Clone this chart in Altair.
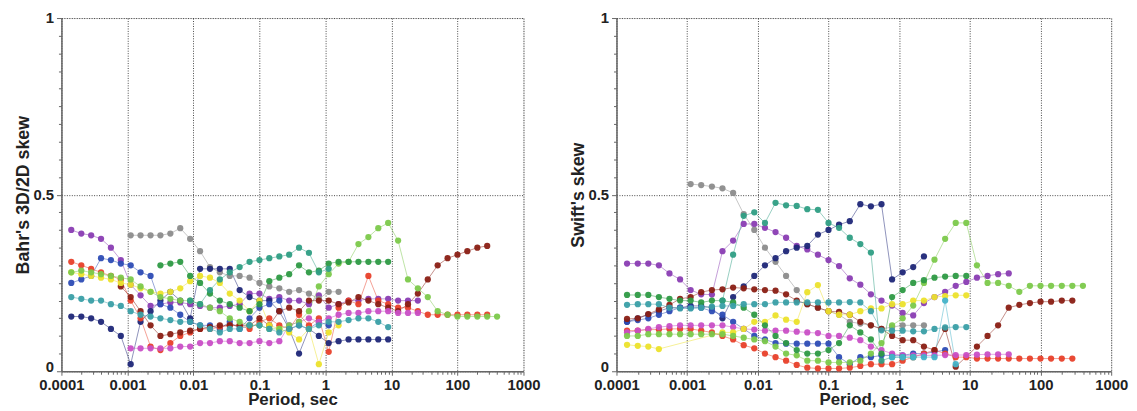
import altair as alt
import pandas as pd

# Periods (s) shared by all stations
periods = [0.000141, 0.0002, 0.000282, 0.000398, 0.000562, 0.000794, 0.00112, 0.00158,
           0.00224, 0.00316, 0.00447, 0.00631, 0.00891, 0.0126, 0.0178, 0.0251, 0.0355,
           0.0501, 0.0708, 0.1, 0.141, 0.2, 0.282, 0.398, 0.562, 0.794, 1.12, 1.58, 2.24,
           3.16, 4.47, 6.31, 8.91, 12.6, 17.8, 25.1, 35.5, 50.1, 70.8, 100, 141, 200, 282, 398]
N = None

# ---- Bahr's 3D/2D skew ----
bahr_purple = [0.40, 0.39, 0.385, 0.375, 0.35, 0.315, 0.245, 0.215, 0.185, 0.19, 0.195, 0.195, 0.19, 0.185,
               0.18, 0.18, 0.185, 0.19, 0.22, 0.22, 0.205, 0.21, 0.2, 0.2, 0.19, 0.215, 0.18, 0.19, 0.2, 0.2,
               0.205, 0.205, 0.205, 0.2, 0.2, 0.2] + [N] * 8
bahr_gray = [N] * 6 + [0.385, 0.385, 0.385, 0.385, 0.39, 0.405, 0.375, 0.34, 0.295, 0.28, 0.27, 0.27, 0.265,
                       0.25, 0.24, 0.235, 0.225, 0.23, 0.22, 0.205, 0.225, 0.225] + [N] * 16
bahr_red = [0.31, 0.30, 0.29, 0.28, 0.27, 0.26, 0.2, 0.15, 0.07, 0.06, 0.08, 0.1, 0.11, 0.12, 0.12, 0.125,
            0.13, 0.13, 0.12, 0.14, 0.15, 0.13, 0.12, 0.16, 0.13, 0.15, 0.055, 0.18, 0.2, 0.19, 0.27, 0.2,
            0.19, 0.18, 0.18, 0.17, 0.16, 0.16, 0.16, 0.16, 0.16, 0.16, 0.16, N]
bahr_lightgreen = [0.28, 0.285, 0.28, 0.275, 0.27, 0.265, 0.26, 0.24, 0.225, 0.21, 0.205, 0.2, 0.2, 0.19,
                   0.18, 0.17, 0.15, 0.14, 0.13, 0.13, 0.12, 0.12, 0.13, 0.14, 0.17, 0.24, 0.275, 0.305,
                   0.31, 0.36, 0.38, 0.405, 0.42, 0.37, 0.26, 0.235, 0.21, 0.17, 0.16, 0.155, 0.155, 0.155,
                   0.155, 0.155]
bahr_maroon = [N] * 5 + [0.24, 0.21, 0.17, 0.13, 0.10, 0.105, 0.11, 0.115, 0.12, 0.125, 0.13, 0.13, 0.13,
                         0.13, 0.15, 0.13, 0.17, 0.18, 0.17, 0.2, 0.2, 0.2, 0.19, 0.195, 0.21, 0.2, 0.19,
                         0.18, 0.17, 0.19, 0.22, 0.26, 0.30, 0.32, 0.33, 0.34, 0.35, 0.355] + [N]
bahr_magenta = [N] * 6 + [0.065, 0.065, 0.065, 0.065, 0.065, 0.07, 0.07, 0.08, 0.08, 0.085, 0.085, 0.08,
                          0.08, 0.085, 0.08, 0.085, 0.13, 0.14, 0.15, 0.14, 0.15, 0.16, 0.165, 0.165, 0.17,
                          0.17, 0.17, 0.165, 0.165, 0.165] + [N] * 8
bahr_teal = [0.21, 0.205, 0.2, 0.2, 0.19, 0.185, 0.17, 0.16, 0.155, 0.15, 0.145, 0.14, 0.14, 0.13, 0.12,
             0.11, 0.12, 0.12, 0.13, 0.13, 0.12, 0.11, 0.12, 0.13, 0.12, 0.13, 0.14, 0.14, 0.145, 0.15,
             0.15, 0.14, 0.125] + [N] * 11
bahr_seagreen = [N] * 12 + [0.2, 0.19, 0.23, 0.26, 0.28, 0.295, 0.31, 0.315, 0.32, 0.325, 0.33, 0.35,
                            0.335, 0.28, 0.29] + [N] * 17
bahr_yellow = [0.28, 0.275, 0.27, 0.265, 0.26, 0.25, 0.245, 0.235, 0.225, 0.22, 0.225, 0.235, 0.255, 0.27,
               0.265, 0.25, 0.22, 0.2, 0.17, 0.2, 0.13, 0.12, 0.11, 0.09, 0.12, 0.02, 0.11, 0.13] + [N] * 16
bahr_darkgreen = [N] * 9 + [0.30, 0.305, 0.31, 0.27, 0.25, 0.22, 0.2, 0.19, 0.18, 0.17, 0.19, 0.255, 0.265,
                            0.275, 0.3, 0.28, 0.285, 0.305, 0.31, 0.31, 0.31, 0.31, 0.31, 0.31] + [N] * 11
bahr_blue = [0.25, 0.26, 0.27, 0.32, 0.315, 0.305, 0.3, 0.28, 0.27, 0.19, 0.18, 0.16, 0.14, 0.13, 0.13,
             0.12, 0.14, 0.12, 0.15, 0.18, 0.19, 0.2, 0.12, 0.13, 0.12, 0.14, 0.13] + [N] * 17
bahr_navy = [0.155, 0.155, 0.15, 0.14, 0.12, 0.1, 0.02, 0.14, 0.17, 0.2, 0.225, 0.2, 0.15, 0.29, 0.29,
             0.29, 0.29, 0.23, 0.21, 0.2, 0.2, 0.17, 0.12, 0.05, 0.12, 0.1, 0.08, 0.085, 0.09, 0.09, 0.09,
             0.09, 0.09] + [N] * 11

# ---- Swift's skew ----
swift_purple = [0.305, 0.305, 0.305, 0.30, 0.277, 0.26, 0.23, 0.218, 0.217, 0.34, 0.37, 0.417, 0.417,
                0.406, 0.394, 0.378, 0.355, 0.345, 0.33, 0.315, 0.298, 0.263, 0.245, 0.218, 0.2, 0.186,
                0.165, 0.158, 0.193, 0.21, 0.225, 0.242, 0.253, 0.265, 0.27, 0.275, 0.277] + [N] * 7
swift_gray = [N] * 6 + [0.53, 0.527, 0.523, 0.518, 0.505, 0.445, 0.40, 0.35, 0.31, 0.27, 0.23, 0.19, 0.18,
                        0.17, 0.16, 0.14, 0.135, 0.13, 0.12, 0.125, 0.13, 0.13, 0.13] + [N] * 15
swift_navy = [0.14, 0.15, 0.16, 0.17, 0.18, 0.18, 0.185, 0.185, 0.18, 0.15, 0.21, 0.24, 0.27, 0.30, 0.32,
              0.34, 0.35, 0.355, 0.387, 0.40, 0.415, 0.425, 0.473, 0.467, 0.473, 0.26, 0.28, 0.295,
              0.325] + [N] * 15
swift_seagreen = [N] * 9 + [0.20, 0.33, 0.44, 0.45, 0.42, 0.477, 0.47, 0.468, 0.459, 0.457, 0.42, 0.406,
                            0.378, 0.36, 0.336, 0.03, 0.04, 0.04, 0.04] + [N] * 16
swift_maroon = [0.148, 0.15, 0.162, 0.175, 0.188, 0.205, 0.21, 0.224, 0.23, 0.232, 0.237, 0.235, 0.232,
                0.23, 0.228, 0.218, 0.2, 0.19, 0.18, 0.17, 0.168, 0.16, 0.14, 0.13, 0.12, 0.1, 0.088,
                0.088, 0.07, 0.06, 0.12, 0.013, N, 0.07, 0.1, 0.13, 0.18, 0.188, 0.193, 0.197, 0.197,
                0.2, 0.2, N]
swift_darkgreen = [0.216, 0.216, 0.216, 0.21, 0.205, 0.2, 0.2, 0.195, 0.2, 0.2, 0.195, 0.18, 0.16, 0.13,
                   0.1, 0.08, 0.06, 0.05, 0.05, 0.06, 0.08, 0.13, 0.11, 0.09, 0.05, 0.21, 0.23, 0.25,
                   0.258, 0.265, 0.268, 0.27, 0.27] + [N] * 11
swift_lightgreen = [0.1, 0.1, 0.105, 0.105, 0.105, 0.105, 0.105, 0.105, 0.105, 0.105, 0.1, 0.095, 0.09,
                    0.085, 0.07, 0.05, 0.045, 0.03, 0.03, 0.025, 0.025, 0.025, 0.03, 0.05, 0.08, 0.13,
                    0.15, 0.186, 0.25, 0.316, 0.375, 0.42, 0.42, 0.30, 0.25, 0.25, 0.242, 0.225, 0.242,
                    0.242, 0.242, 0.242, 0.242, 0.242]
swift_red = [0.115, 0.115, 0.118, 0.118, 0.12, 0.12, 0.12, 0.115, 0.11, 0.1, 0.09, 0.074, 0.065, 0.05,
             0.04, 0.03, 0.018, 0.01, 0.008, 0.008, 0.008, 0.01, 0.015, 0.02, 0.02, 0.02, 0.03, 0.04,
             0.05, 0.06, 0.05, 0.04, 0.04, 0.036, 0.036, 0.036, 0.036, 0.036, 0.036, 0.036, 0.036, 0.036,
             0.036, N]
swift_magenta = [0.11, 0.115, 0.12, 0.125, 0.128, 0.13, 0.13, 0.13, 0.13, 0.13, 0.125, 0.12, 0.118, 0.115,
                 0.115, 0.115, 0.112, 0.11, 0.108, 0.1, 0.1, 0.095, 0.088, 0.07, 0.06, 0.05, 0.045, 0.045,
                 0.045, 0.045, 0.046, 0.046, 0.046, 0.047, 0.048, 0.048, 0.048] + [N] * 7
swift_yellow = [0.075, 0.072, 0.07, 0.063, N, N, N, N, N, 0.11, 0.11, 0.12, 0.14, 0.14, 0.158, 0.146, 0.14,
                0.224, 0.244, 0.17, 0.16, 0.16, 0.17, 0.178, 0.178, 0.19, 0.19, 0.2, 0.2, 0.21, 0.213,
                0.215, 0.215] + [N] * 11
swift_teal = [0.188, 0.19, 0.19, 0.19, 0.18, 0.178, 0.178, 0.18, 0.183, 0.185, 0.185, 0.19, 0.19, 0.19,
              0.195, 0.195, 0.195, 0.195, 0.195, 0.195, 0.195, 0.196, 0.195, 0.17, 0.116, 0.115, 0.115,
              0.113, 0.113, 0.12, 0.124, 0.125, 0.125] + [N] * 11
swift_blue = [0.14, 0.145, 0.15, 0.16, 0.17, 0.18, 0.18, 0.18, 0.17, 0.16, 0.14, 0.12, 0.1, 0.09, 0.08,
              0.078, 0.078, 0.078, 0.078, 0.078, 0.04, 0.02, 0.04, 0.04, 0.045, 0.045, 0.045, 0.05, 0.05,
              0.055, 0.06] + [N] * 13
swift_cyan = [N] * 25 + [0.04, 0.04, 0.04, 0.04, 0.04, 0.2, 0.02] + [N] * 12

series_names = ["purple", "gray", "navy", "blue", "red", "maroon", "magenta", "yellow",
                "lightgreen", "darkgreen", "seagreen", "teal", "cyan"]
series_colors = ["#8a3db3", "#8c8c8c", "#1f2778", "#2d4cb5", "#e8402a", "#8a1f14", "#c94fc6", "#ece12c",
                 "#7cc94b", "#2e9a45", "#2f9e84", "#3a9fa6", "#45b3c9"]

bahr_series = [("purple", bahr_purple), ("gray", bahr_gray), ("navy", bahr_navy), ("blue", bahr_blue),
               ("red", bahr_red), ("maroon", bahr_maroon), ("magenta", bahr_magenta),
               ("yellow", bahr_yellow), ("lightgreen", bahr_lightgreen), ("darkgreen", bahr_darkgreen),
               ("seagreen", bahr_seagreen), ("teal", bahr_teal)]
swift_series = [("purple", swift_purple), ("gray", swift_gray), ("navy", swift_navy), ("blue", swift_blue),
                ("red", swift_red), ("maroon", swift_maroon), ("magenta", swift_magenta),
                ("yellow", swift_yellow), ("lightgreen", swift_lightgreen), ("darkgreen", swift_darkgreen),
                ("seagreen", swift_seagreen), ("teal", swift_teal), ("cyan", swift_cyan)]

x_ticks = [round(m * 10 ** e, 8) for e in range(-4, 3) for m in range(1, 10)] + [1000]
y_ticks = [round(i * 0.05, 2) for i in range(21)]
x_major = "abs(log(datum.value)/LN10 - round(log(datum.value)/LN10)) < 0.001"
y_major = "abs(datum.value*2 - round(datum.value*2)) < 0.001"

FONT = "Liberation Sans"


def panel(series, ytitle, width):
    rows = []
    for name, vals in series:
        for p, v in zip(periods, vals):
            if v is not None:
                rows.append({"series": name, "period": p, "value": v})
    df = pd.DataFrame(rows)

    x = alt.X("period:Q", scale=alt.Scale(type="log", domain=[0.0001, 1000], nice=False),
              axis=alt.Axis(values=x_ticks, title="Period, sec",
                            labelExpr=f"({x_major}) ? format(datum.value, '~g') : ''",
                            labelOverlap=False, labelFlush=False,
                            labelFont=FONT, labelFontSize=15, labelFontWeight="bold",
                            labelColor="#222", labelPadding=2,
                            titleFont=FONT, titleFontSize=17, titleFontWeight="bold", titleColor="#222",
                            titlePadding=0,
                            grid=True, gridColor="#333", gridDash=[1, 1.5], gridWidth=1,
                            gridOpacity={"condition": {"test": x_major, "value": 0.9}, "value": 0},
                            tickColor="#666",
                            tickSize={"condition": {"test": x_major, "value": 4}, "value": 3},
                            domainColor="#666", domainWidth=1.5))
    y = alt.Y("value:Q", scale=alt.Scale(domain=[0, 1], nice=False),
              axis=alt.Axis(values=y_ticks, title=ytitle,
                            labelExpr=f"({y_major}) ? format(datum.value, '~g') : ''",
                            labelOverlap=False, labelFlush=False,
                            labelBaseline={"condition": {"test": "datum.value < 0.01", "value": "alphabetic"},
                                           "value": "middle"},
                            labelFont=FONT, labelFontSize=15, labelFontWeight="bold",
                            labelColor="#222", labelPadding=3,
                            titleFont=FONT, titleFontSize=18, titleFontWeight="bold", titleColor="#222",
                            titlePadding=0,
                            grid=True, gridColor="#333", gridDash=[1, 1.5], gridWidth=1,
                            gridOpacity={"condition": {"test": y_major, "value": 0.9}, "value": 0},
                            tickColor="#666",
                            tickSize={"condition": {"test": y_major, "value": 5}, "value": 3},
                            domainColor="#666", domainWidth=1.5))
    color = alt.Color("series:N", scale=alt.Scale(domain=series_names, range=series_colors), legend=None)
    base = alt.Chart(df)
    lines = base.mark_line(strokeWidth=1, opacity=0.5).encode(x=x, y=y, color=color, detail="series:N")
    pts = base.mark_circle(size=40, opacity=0.95).encode(x=x, y=y, color=color)
    return alt.layer(lines, pts).properties(width=width, height=357)


left = panel(bahr_series, "Bahr's 3D/2D skew", 467)
right = panel(swift_series, "Swift's skew", 500)

chart = alt.hconcat(left, right, spacing=28).properties(
    padding={"left": 6, "top": 0, "right": 0, "bottom": 0}
).configure_view(stroke="transparent").configure(font=FONT, background="white")

chart.save("out.html", embed_options={"renderer": "svg", "actions": False})
